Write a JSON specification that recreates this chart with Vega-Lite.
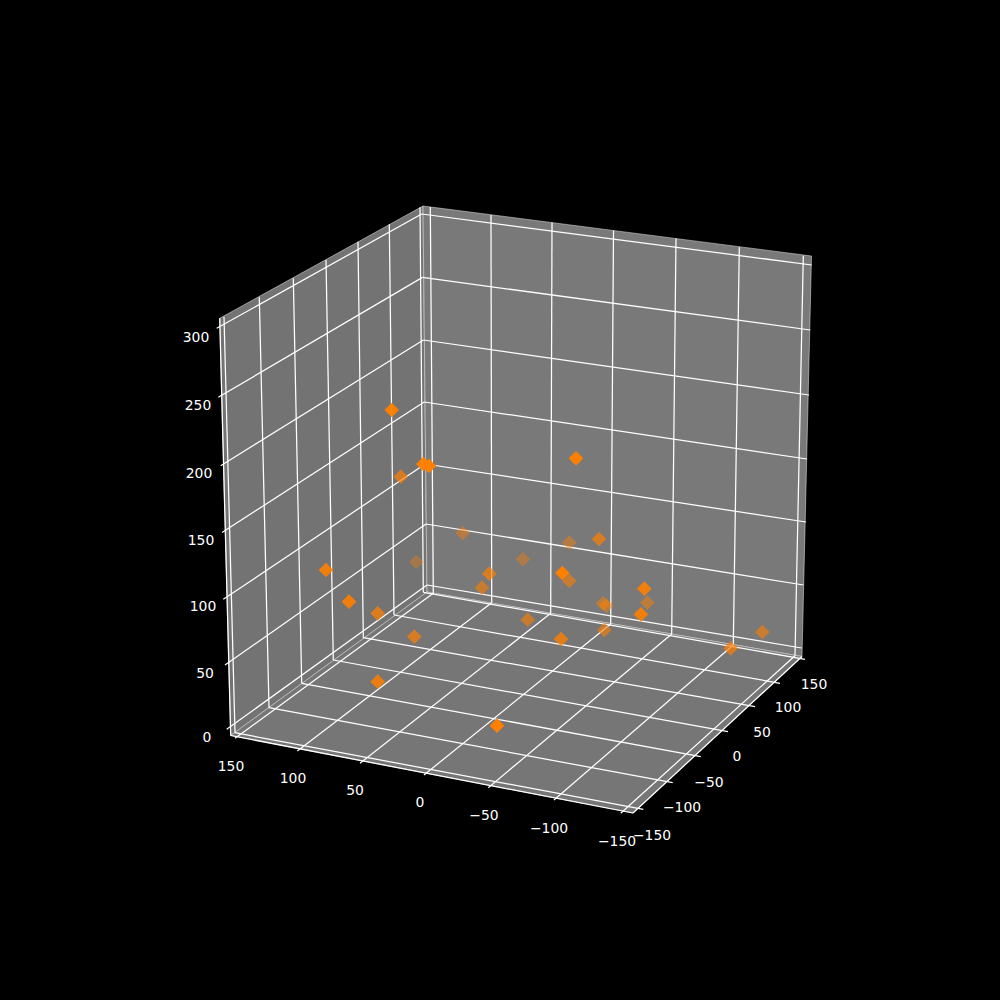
{
"$schema":"https://vega.github.io/schema/vega-lite/v6.json",
"width":1000,"height":1000,"padding":0,
"autosize":{"type":"fit","contains":"padding"},
"background":"#000000",
"config":{"view":{"stroke":null}},
"datasets":{
"panes":[
{"pane":"left","i":0,"u":219.7,"v":318.3},{"pane":"left","i":1,"u":423,"v":206},{"pane":"left","i":2,"u":427,"v":592},{"pane":"left","i":3,"u":230.7,"v":735.5},{"pane":"left","i":4,"u":219.7,"v":318.3},
{"pane":"back","i":0,"u":423,"v":206},{"pane":"back","i":1,"u":811.5,"v":256},{"pane":"back","i":2,"u":802,"v":656.5},{"pane":"back","i":3,"u":427,"v":592},{"pane":"back","i":4,"u":423,"v":206},
{"pane":"floor","i":0,"u":230.7,"v":735.5},{"pane":"floor","i":1,"u":427,"v":592},{"pane":"floor","i":2,"u":802,"v":656.5},{"pane":"floor","i":3,"u":633,"v":813},{"pane":"floor","i":4,"u":230.7,"v":735.5}
],
"grid":[
{"u":224,"v":316.7,"u2":235,"v2":732.7},{"u":259.3,"v":297.3,"u2":269,"v2":707.7},{"u":293.3,"v":278.3,"u2":301.7,"v2":683.3},{"u":326,"v":260,"u2":333.3,"v2":660},{"u":358,"v":241.7,"u2":363.3,"v2":637.7},{"u":389.3,"v":224.3,"u2":394,"v2":615},{"u":420,"v":207.3,"u2":423.3,"v2":592.3},
{"u":430.3,"v":207,"u2":433.3,"v2":593.3},{"u":491,"v":215,"u2":491.7,"v2":602.7},{"u":552,"v":222.6,"u2":550.7,"v2":613.3},{"u":613.5,"v":230.5,"u2":610.7,"v2":624},{"u":676,"v":238.6,"u2":671.7,"v2":634},{"u":739.3,"v":247.3,"u2":733.3,"v2":645},{"u":803.3,"v":255.7,"u2":795,"v2":655.7},
{"u":421.7,"v":214,"u2":811.7,"v2":265},{"u":422.5,"v":277.4,"u2":810.3,"v2":330},{"u":423.4,"v":340,"u2":809,"v2":395},{"u":424.2,"v":402,"u2":807,"v2":459},{"u":425.2,"v":464,"u2":806,"v2":522},{"u":426,"v":524,"u2":803.5,"v2":585},{"u":427,"v":585,"u2":801.7,"v2":648},
{"u":216.7,"v":328.3,"u2":421.7,"v2":214},{"u":218.3,"v":397.3,"u2":422.5,"v2":277.4},{"u":220.7,"v":465.7,"u2":423.4,"v2":340},{"u":222,"v":532.5,"u2":424.2,"v2":402},{"u":223.3,"v":599.3,"u2":425.2,"v2":464},{"u":225,"v":665,"u2":426,"v2":524},{"u":226.7,"v":729.3,"u2":427,"v2":585},
{"u":235,"v":738.3,"u2":433.3,"v2":593.3},{"u":297.3,"v":751,"u2":491.7,"v2":602.7},{"u":360,"v":763.3,"u2":550.7,"v2":613.3},{"u":424,"v":775,"u2":610.7,"v2":624},{"u":488.3,"v":787.7,"u2":671.7,"v2":634},{"u":554,"v":800,"u2":733.3,"v2":645},{"u":620.7,"v":813.3,"u2":795,"v2":655.7},
{"u":235,"v":732.7,"u2":643.3,"v2":809.3},{"u":269,"v":707.7,"u2":672.7,"v2":782.7},{"u":301.7,"v":683.3,"u2":700.7,"v2":756.7},{"u":333.3,"v":660,"u2":728,"v2":731.7},{"u":363.3,"v":637.7,"u2":755,"v2":706.7},{"u":394,"v":615,"u2":780,"v2":683.3},{"u":423.3,"v":592.3,"u2":805,"v2":659.3},
{"u":230.7,"v":735.5,"u2":633,"v2":813},{"u":633,"v":813,"u2":802,"v2":656.5},{"u":219.7,"v":318.3,"u2":230.7,"v2":735.5}
],
"labels":[
{"t":"300","u":196,"v":336},{"t":"250","u":198,"v":404},{"t":"200","u":199,"v":472},{"t":"150","u":201,"v":539},{"t":"100","u":203,"v":605},{"t":"50","u":205,"v":672},{"t":"0","u":207,"v":736},
{"t":"150","u":231,"v":765},{"t":"100","u":293,"v":777},{"t":"50","u":355,"v":789},{"t":"0","u":420,"v":801},{"t":"−50","u":484,"v":814},{"t":"−100","u":549,"v":827},{"t":"−150","u":617,"v":840},
{"t":"150","u":814,"v":683},{"t":"100","u":788,"v":706},{"t":"50","u":762,"v":731},{"t":"0","u":737,"v":755},{"t":"−50","u":709,"v":781},{"t":"−100","u":682,"v":806},{"t":"−150","u":652,"v":834}
],
"points":[
{"u":416.3,"v":562,"d":0.35},{"u":523,"v":559.3,"d":0.4},{"u":462.7,"v":533,"d":0.45},{"u":569.3,"v":542.7,"d":0.45},{"u":603,"v":603.3,"d":0.5},{"u":606.3,"v":605.7,"d":0.5},{"u":647.3,"v":602.7,"d":0.5},{"u":482,"v":587.7,"d":0.6},{"u":569.3,"v":581,"d":0.6},{"u":527.7,"v":619.7,"d":0.6},{"u":604.3,"v":630,"d":0.6},{"u":762.3,"v":632,"d":0.6},{"u":489.3,"v":573.7,"d":0.7},{"u":599,"v":539,"d":0.7},{"u":414.3,"v":636.7,"d":0.7},{"u":400.7,"v":476.7,"d":0.7},{"u":730.7,"v":648.3,"d":0.7},{"u":377.7,"v":613.3,"d":0.75},{"u":561,"v":639,"d":0.8},{"u":377.7,"v":681.7,"d":0.85},{"u":644.3,"v":588.7,"d":0.9},{"u":641,"v":614.3,"d":0.9},{"u":326,"v":570,"d":0.9},{"u":349,"v":601.7,"d":0.9},{"u":423.3,"v":464,"d":0.95},{"u":391.7,"v":410,"d":0.95},{"u":429,"v":466,"d":1},{"u":576,"v":458.3,"d":1},{"u":562.3,"v":573,"d":1},{"u":497,"v":725.7,"d":1}
]
},
"encoding":{
"x":{"field":"u","type":"quantitative","scale":{"domain":[0,1000],"nice":false,"zero":false},"axis":null},
"y":{"field":"v","type":"quantitative","scale":{"domain":[1000,0],"nice":false,"zero":false},"axis":null}
},
"layer":[
{"data":{"name":"panes"},"transform":[{"filter":"datum.pane==='left'"}],"mark":{"type":"line","fill":"#737373","stroke":"#f2f2f2","strokeOpacity":0.5,"strokeWidth":1},"encoding":{"order":{"field":"i"}}},
{"data":{"name":"panes"},"transform":[{"filter":"datum.pane==='back'"}],"mark":{"type":"line","fill":"#797979","stroke":"#f2f2f2","strokeOpacity":0.5,"strokeWidth":1},"encoding":{"order":{"field":"i"}}},
{"data":{"name":"panes"},"transform":[{"filter":"datum.pane==='floor'"}],"mark":{"type":"line","fill":"#767676","stroke":"#f2f2f2","strokeOpacity":0.5,"strokeWidth":1},"encoding":{"order":{"field":"i"}}},
{"data":{"name":"grid"},"mark":{"type":"rule","color":"#ffffff","strokeWidth":1.25},"encoding":{"x2":{"field":"u2"},"y2":{"field":"v2"}}},
{"data":{"name":"points"},"mark":{"type":"point","shape":"diamond","filled":true,"color":"#ff7f00","strokeWidth":0,"size":215},"encoding":{"opacity":{"field":"d","type":"quantitative","scale":{"domain":[0,1],"range":[0,1]},"legend":null},"order":{"field":"d"}}},
{"data":{"name":"labels"},"mark":{"type":"text","font":"DejaVu Sans","fontSize":13.9,"color":"#ffffff","align":"center","baseline":"middle","dy":1.5},"encoding":{"text":{"field":"t"}}}
]
}
